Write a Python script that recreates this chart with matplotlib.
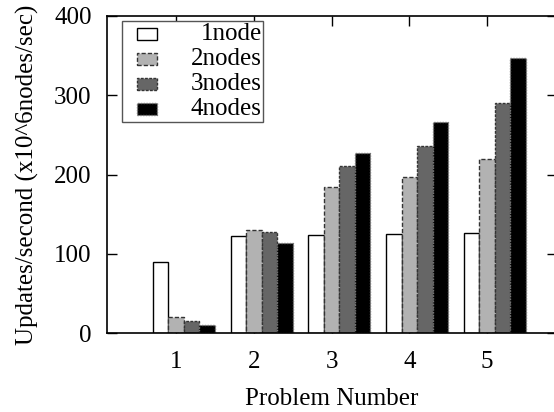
import matplotlib
matplotlib.use("Agg")
import matplotlib.pyplot as plt
from matplotlib.patches import Rectangle
import numpy as np

problems = [1, 2, 3, 4, 5]
series_names = ["1node", "2nodes", "3nodes", "4nodes"]
node1 = [90, 123, 124, 125, 126]
node2 = [20, 130, 184, 197, 220]
node3 = [15, 127, 211, 236, 290]
node4 = [10, 114, 227, 266, 347]
yticks = [0, 100, 200, 300, 400]

series = [node1, node2, node3, node4]
faces = ["white", "#b2b2b2", "#666666", "black"]
edges = ["black", "#333333", "#333333", "#777777"]
styles = ["solid", (0, (3, 1.5)), (0, (2, 1)), (0, (1, 1))]

plt.rcParams['font.family'] = ['Liberation Serif', 'DejaVu Serif']
fig = plt.figure(figsize=(5.54, 4.12), dpi=100)
ax = fig.add_axes([107/554, 79/412, 450/554, 317/412])

x = np.array(problems, dtype=float)
w = 0.2
for i, (vals, fc, ec, ls) in enumerate(zip(series, faces, edges, styles)):
    ax.bar(x - 0.3 + i * w, vals, width=w, align='edge', facecolor=fc,
           edgecolor=ec, linestyle=ls, linewidth=1.0, zorder=2)

ax.set_xlim(0.11, 5.9)
ax.set_ylim(0, 400)
ax.set_xticks(problems)
ax.set_yticks(yticks)
ax.tick_params(direction='in', length=7, width=1, top=True, right=True,
               labelsize=18, colors='black')
ax.tick_params(axis='y', pad=11)
ax.tick_params(axis='x', pad=13)
for s in ax.spines.values():
    s.set_linewidth(1.2)
ax.set_xlabel("Problem Number", fontsize=18, labelpad=11)
ax.set_ylabel("Updates/second (x10^6nodes/sec)", fontsize=18, labelpad=11)

# legend drawn in axes coordinates
ax.add_patch(Rectangle((0.033, 0.667), 0.313, 0.317, transform=ax.transAxes,
                       facecolor='white', edgecolor='#555555', linewidth=1.0,
                       zorder=5))
row_y = [0.943, 0.864, 0.785, 0.707]
for name, fc, ec, ls, yy in zip(series_names, faces, edges, styles, row_y):
    ax.add_patch(Rectangle((0.066, yy - 0.0195), 0.046, 0.039,
                           transform=ax.transAxes, facecolor=fc, edgecolor=ec,
                           linestyle=ls, linewidth=1.0, zorder=6))
    ax.text(0.344, yy, name, transform=ax.transAxes, ha='right', va='center',
            fontsize=18, zorder=7)

fig.savefig("out.png", dpi=100)
